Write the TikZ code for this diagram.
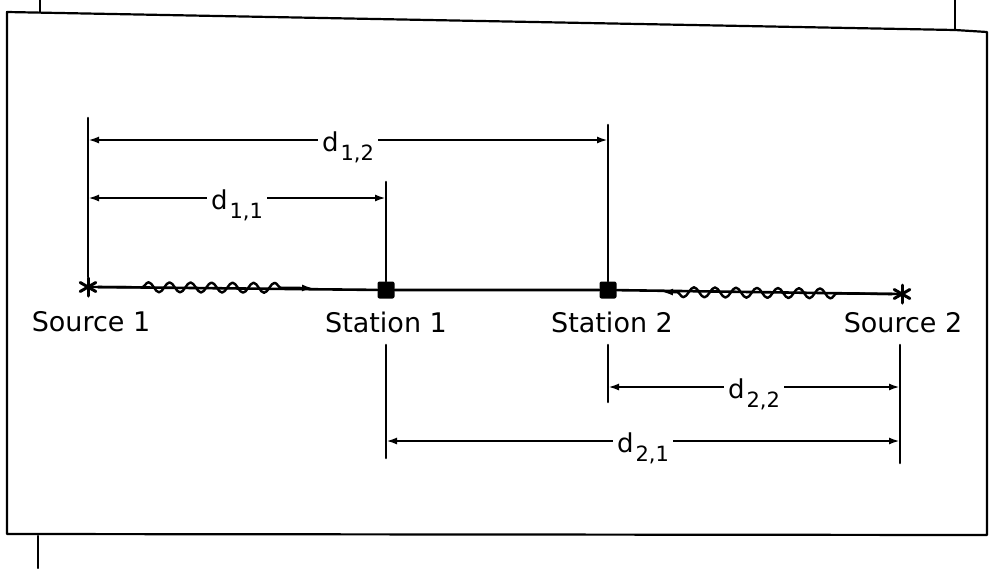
\documentclass[tikz,border=0pt]{standalone}
\usepackage{fontspec}
\setmainfont{DejaVu Sans}
\usetikzlibrary{arrows.meta,calc,positioning,decorations.pathmorphing}
\newcommand{\dsub}[1]{d\kern2pt\raisebox{-9pt}{\fontsize{21}{21}\selectfont #1}}

\begin{document}
\begin{tikzpicture}[x=1pt,y=-1pt,>={Latex[length=11pt,width=7pt]},line cap=round,line join=round]
\useasboundingbox[fill=white] (0,0) rectangle (990,568);
\tikzset{frame/.style={draw=black,line width=2.2pt},wire/.style={draw=black,line width=2.6pt},dim/.style={draw=black,line width=2.3pt,<->},wavy/.style={draw=black,line width=2.4pt,->,decorate,decoration={snake,amplitude=5pt,segment length=21pt,#1}},station/.style={fill=black,minimum size=17pt,inner sep=0pt,rounded corners=2pt},lbl/.style={font=\fontsize{27}{27}\selectfont},dlbl/.style={fill=white,inner xsep=4pt,inner ysep=1pt,font=\fontsize{26}{26}\selectfont,yshift=-7pt}}
% scanned frame
\draw[frame] (7,12) -- (955,30) -- (987,32) -- (987,535) -- (7,534) -- cycle;
\draw[frame] (40,0) -- (40,12); \draw[frame] (955,0) -- (955,30); \draw[frame] (38,536) -- (38,568);
% sources and stations
\coordinate (src1) at (88,287); \coordinate (src2) at (902,294);
\node[station] (sta1) at (386,290) {}; \node[station] (sta2) at (608,290) {};
\foreach \a in {90,30,150} {\draw[wire,line width=3pt] ($(src1)+(\a:9)$) -- ($(src1)+(\a+180:9)$); \draw[wire,line width=3pt] ($(src2)+(\a:9)$) -- ($(src2)+(\a+180:9)$);}
\draw[wire] ([xshift=10pt]src1) -- (sta1) -- (sta2) -- ([xshift=-10pt]src2);
\coordinate (tip1) at (313,288); \coordinate (tip2) at (662,292);
\draw[wavy={pre length=54pt,post length=23pt}] (src1) -- (tip1);
\draw[wavy={pre length=65pt,post length=9pt}] (src2) -- (tip2);
\node[lbl] (src1lbl) at (91,322) {Source 1}; \node[lbl] (sta1lbl) at (386,322) {Station 1};
\node[lbl] (sta2lbl) at (612,322) {Station 2}; \node[lbl] (src2lbl) at (903,323) {Source 2};
% extension lines
\coordinate (e1) at (88,118); \coordinate (e2) at (386,182); \coordinate (e3) at (608,125);
\coordinate (f2a) at (386,345); \coordinate (f2b) at (386,458); \coordinate (f3a) at (608,345); \coordinate (f3b) at (608,402);
\coordinate (f4a) at (900,345); \coordinate (f4b) at (900,463);
\draw[wire] ([yshift=10pt]src1) -- (e1); \draw[wire] (sta1.north) -- (e2); \draw[wire] (sta2.north) -- (e3);
\draw[wire] (f2a) -- (f2b); \draw[wire] (f3a) -- (f3b); \draw[wire] (f4a) -- (f4b);
% distances
\coordinate (a12) at (88,140); \coordinate (b12) at (608,140); \coordinate (a11) at (88,198); \coordinate (b11) at (386,198);
\coordinate (a22) at (608,387); \coordinate (b22) at (900,387); \coordinate (a21) at (386,441); \coordinate (b21) at (900,441);
\draw[dim] (a12) -- (b12) node[midway,dlbl] (d12) {\dsub{1,2}};
\draw[dim] (a11) -- (b11) node[midway,dlbl] (d11) {\dsub{1,1}};
\draw[dim] (a22) -- (b22) node[midway,dlbl] (d22) {\dsub{2,2}};
\draw[dim] (a21) -- (b21) node[midway,dlbl] (d21) {\dsub{2,1}};
\end{tikzpicture}
\end{document}
